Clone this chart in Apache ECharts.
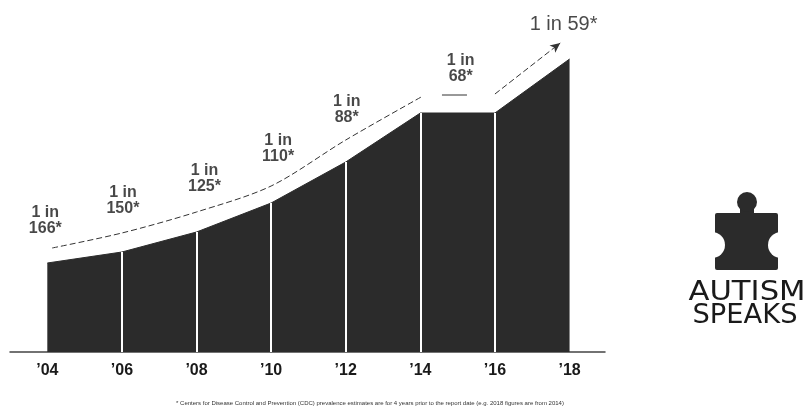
<!DOCTYPE html>
<html lang="en" style="height: 100%">
<head>
  <meta charset="utf-8">
</head>
<body style="height: 100%; margin: 0; background: #fff">
  <div id="container" style="height: 100%"></div>

  <script type="text/javascript" src="https://cdn.jsdelivr.net/npm/echarts@6/dist/echarts.min.js"></script>
  <script type="text/javascript">
// report years and height of the black area (relative units)
var years = [2004, 2006, 2008, 2010, 2012, 2014, 2016, 2018];
var areaHeight = [89, 100, 120, 149, 190, 239, 239, 293];

// dashed trend line above the area
var trendYears = [2004.13, 2006, 2008, 2010, 2012, 2014.07];
var trendValues = [104, 119, 140, 166, 212, 256];
var flatYears = [2014.58, 2015.25];
var flatValues = [257, 257];
var arrowYears = [2016, 2017.75];
var arrowValues = [258, 309];

// "1 in N*" prevalence labels
var rateYears = [2004, 2006, 2008, 2010, 2012, 2015, 2018];
var rates = ['166', '150', '125', '110', '88', '68', '59'];

var footnote = '* Centers for Disease Control and Prevention (CDC) prevalence estimates are for 4 years prior to the report date (e.g. 2018 figures are from 2014)';

var dom = document.getElementById('container');
var myChart = echarts.init(dom, null, { renderer: 'canvas' });

function heightAt(x) {
  for (var i = 0; i < years.length - 1; i++) {
    if (x >= years[i] && x <= years[i + 1]) {
      var t = (x - years[i]) / (years[i + 1] - years[i]);
      return areaHeight[i] + t * (areaHeight[i + 1] - areaHeight[i]);
    }
  }
  return areaHeight[areaHeight.length - 1];
}

// small per-label nudges (px) so the text sits where it does in the picture
var labelNudge = [[-2, 10], [1, 1], [8, -1], [7, -2], [1, 0], [3, 8], [-6, 2]];

var labelData = rateYears.map(function (y, i) {
  var last = i === rateYears.length - 1;
  return {
    value: [y, heightAt(y)],
    label: {
      formatter: last ? '1 in ' + rates[i] + '*' : '1 in\n' + rates[i] + '*',
      fontWeight: last ? 'normal' : 'bold',
      fontSize: last ? 20 : 16,
      lineHeight: last ? 22 : 16,
      distance: last ? 26 : 36,
      offset: labelNudge[i]
    }
  };
});

var ink = '#2b2b2b';

var option = {
  animation: false,
  grid: { left: 10, right: 203, top: 20, bottom: 61 },
  xAxis: {
    type: 'value',
    min: 2003,
    max: 2018.95,
    splitLine: { show: false },
    axisTick: { show: false },
    axisLine: { lineStyle: { color: '#444', width: 1.5 } },
    axisLabel: {
      customValues: years,
      formatter: function (v) { return '\u2019' + String(v).slice(2); },
      fontFamily: 'Liberation Sans',
      fontWeight: 'bold',
      fontSize: 16,
      color: '#1a1a1a',
      margin: 11
    }
  },
  yAxis: { type: 'value', min: 0, max: 332, show: false },
  series: [
    {
      type: 'line',
      data: years.map(function (y, i) { return [y, areaHeight[i]]; }),
      symbol: 'none',
      lineStyle: { color: ink, width: 1 },
      areaStyle: { color: ink, opacity: 1 },
      markLine: {
        silent: true,
        symbol: 'none',
        label: { show: false },
        lineStyle: { color: '#fff', width: 2, type: 'solid' },
        data: years.slice(1, -1).map(function (y, i) {
          return [{ coord: [y, 0] }, { coord: [y, areaHeight[i + 1]] }];
        })
      }
    },
    {
      type: 'line',
      data: trendYears.map(function (y, i) { return [y, trendValues[i]]; }),
      symbol: 'none',
      smooth: 0.3,
      lineStyle: { color: '#333', width: 1, type: [6, 3] }
    },
    {
      type: 'line',
      data: flatYears.map(function (y, i) { return [y, flatValues[i]]; }),
      symbol: 'none',
      lineStyle: { color: '#333', width: 1 },
      markLine: {
        silent: true,
        symbol: ['none', 'arrow'],
        symbolSize: [7, 10],
        label: { show: false },
        lineStyle: { color: '#333', width: 1, type: [6, 3] },
        data: [[{ coord: [arrowYears[0], arrowValues[0]] }, { coord: [arrowYears[1], arrowValues[1]] }]]
      }
    },
    {
      type: 'scatter',
      symbolSize: 0,
      data: labelData,
      label: {
        show: true,
        position: 'top',
        align: 'center',
        color: '#1a1a1a',
        fontFamily: 'Liberation Sans'
      }
    }
  ],
  graphic: [
    // puzzle piece logo
    { type: 'rect', shape: { x: 715, y: 213, width: 63, height: 57, r: 2 }, style: { fill: ink } },
    { type: 'rect', shape: { x: 740, y: 203, width: 14, height: 12 }, style: { fill: ink } },
    { type: 'circle', shape: { cx: 747, cy: 202, r: 10 }, style: { fill: ink } },
    { type: 'circle', shape: { cx: 781, cy: 245, r: 13 }, style: { fill: '#fff' } },
    { type: 'circle', shape: { cx: 712, cy: 245, r: 13 }, style: { fill: '#fff' } },
    {
      type: 'text',
      x: 747, y: 293,
      scaleX: 1.18,
      style: { text: 'AUTISM', font: '26px "DejaVu Sans"', fill: '#1a1a1a', align: 'center', verticalAlign: 'middle' }
    },
    {
      type: 'text',
      x: 745, y: 316,
      scaleX: 1.05,
      style: { text: 'SPEAKS', font: '26px "DejaVu Sans"', fill: '#1a1a1a', align: 'center', verticalAlign: 'middle' }
    },
    {
      type: 'text',
      x: 370, y: 403,
      style: { text: footnote, font: '6px "Liberation Sans"', fill: '#333', align: 'center', verticalAlign: 'middle' }
    }
  ]
};

myChart.setOption(option);
window.addEventListener('resize', myChart.resize);
  </script>
</body>
</html>
